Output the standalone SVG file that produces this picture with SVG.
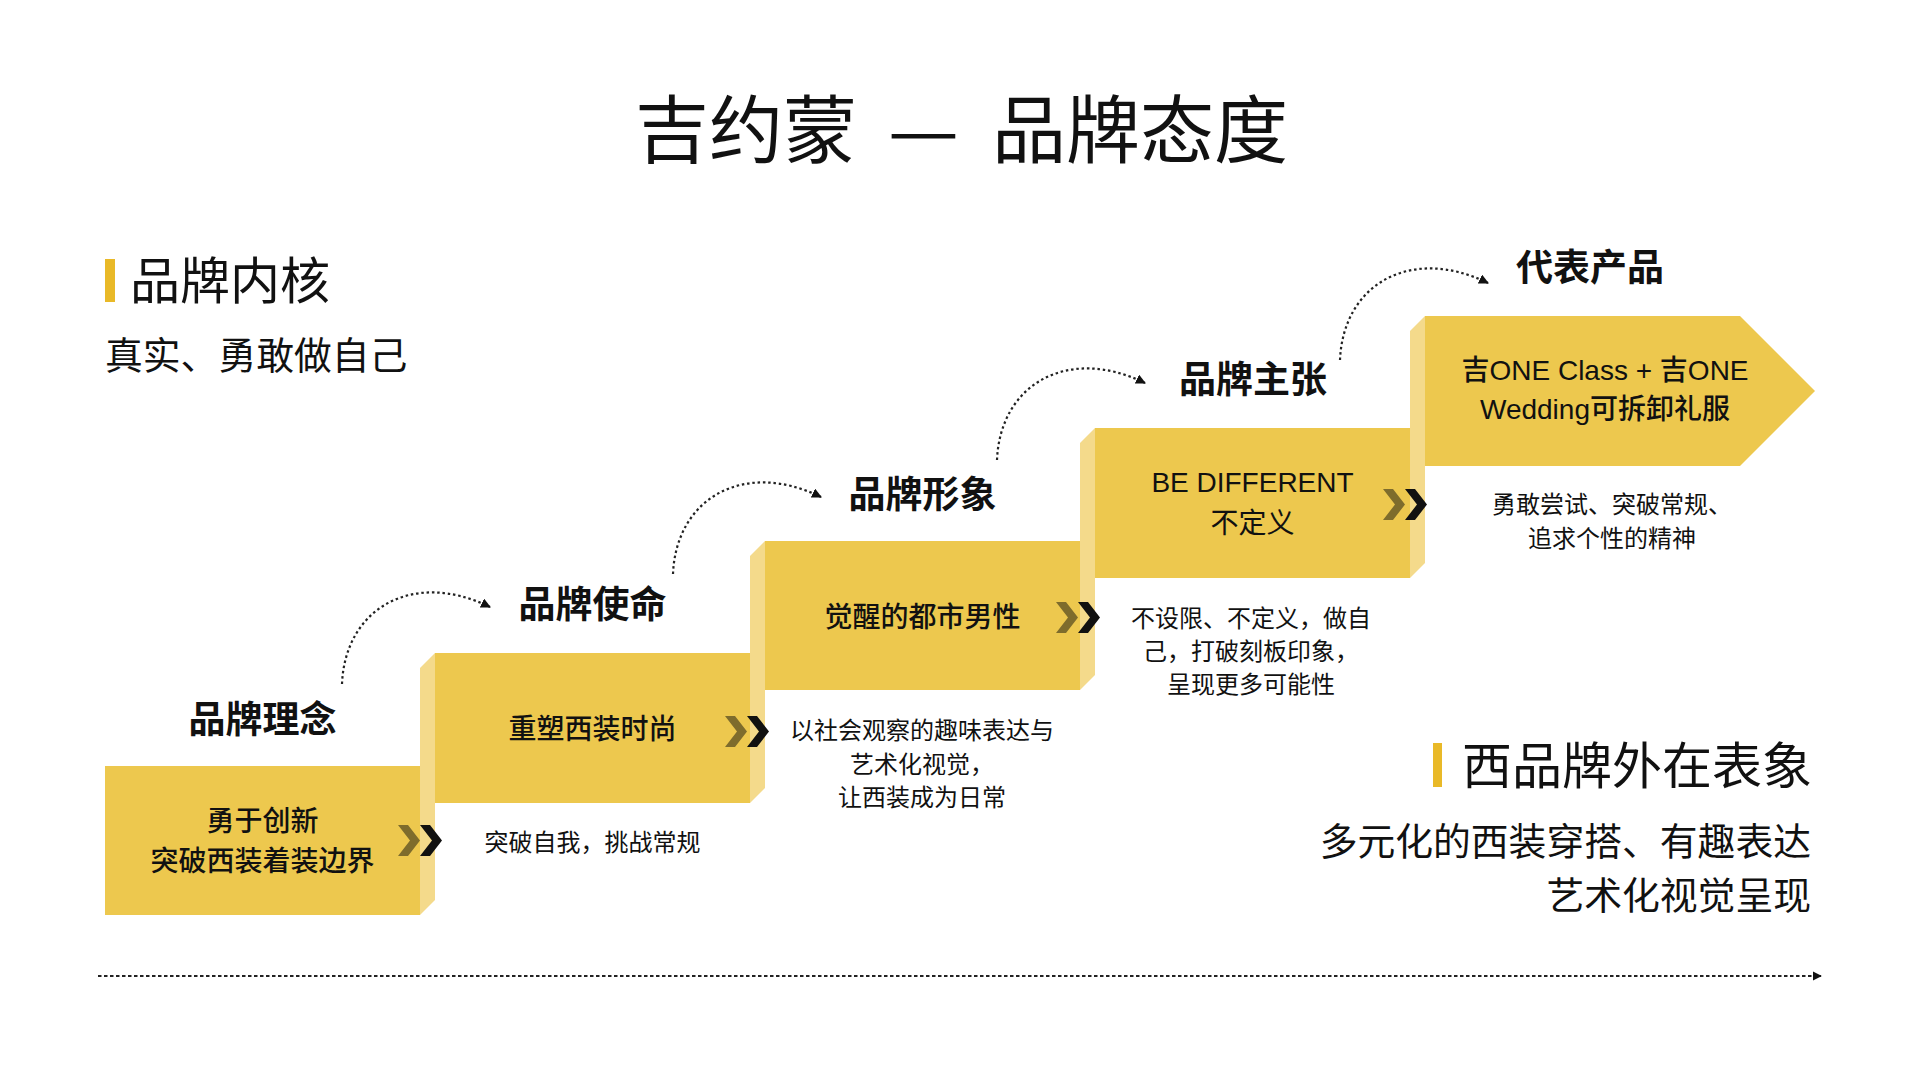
<svg xmlns="http://www.w3.org/2000/svg" width="1920" height="1080" viewBox="0 0 1920 1080">
<style>
.cjk{font-family:'Noto Sans CJK SC','Noto Sans',sans-serif;fill:#111}
.lat{font-family:'Liberation Sans','Noto Sans CJK SC',sans-serif;fill:#111}
.title{font-size:74px;font-weight:400}
.h1{font-size:50px;font-weight:400}
.big{font-size:37.8px;font-weight:400}
.h2{font-size:37px;font-weight:700;text-anchor:middle}
.box{font-size:28px;font-weight:500;text-anchor:middle}
.small{font-size:24px;font-weight:400;text-anchor:middle}
.main{fill:#EDC84E}
.side{fill:#F4DA8B}
.bar{fill:#E9B928}
.curve{fill:none;stroke:#222;stroke-width:2.2;stroke-dasharray:2.5 2.8}
.base{fill:none;stroke:#222;stroke-width:2;stroke-dasharray:3.5 2.5}
</style>
<defs>
<marker id="ah" viewBox="0 0 10 10" refX="9" refY="5" markerWidth="10" markerHeight="10" markerUnits="userSpaceOnUse" orient="auto">
<path d="M0,0 L10,5 L0,10 Z" fill="#111"/>
</marker>
<marker id="ah2" viewBox="0 0 10 10" refX="9" refY="5" markerWidth="9" markerHeight="10" markerUnits="userSpaceOnUse" orient="auto">
<path d="M0,0 L10,5 L0,10 Z" fill="#111"/>
</marker>
<path id="chev" d="M0,0 L10,0 L22,15.5 L10,31 L0,31 L12,15.5 Z"/>
<path id="arc" class="curve" d="M0,0 C3,-75 70,-115 148,-77" marker-end="url(#ah)"/>
</defs>
<rect width="1920" height="1080" fill="#FFFFFF"/>

<g id="title">
<text class="cjk title" y="157"><tspan x="635">吉约蒙</tspan><tspan x="992">品牌态度</tspan></text>
<text class="cjk title" x="888" y="157" font-weight="700" textLength="71" lengthAdjust="spacingAndGlyphs">—</text>
</g>

<g id="core">
<rect class="bar" x="105" y="259" width="10" height="43"/>
<text class="cjk h1" x="130" y="299">品牌内核</text>
<text class="cjk big" x="105" y="369">真实、勇敢做自己</text>
</g>

<g id="outer">
<rect class="bar" x="1433" y="743" width="9" height="44"/>
<text class="cjk h1" x="1812" y="784" text-anchor="end">西品牌外在表象</text>
<text class="cjk big" x="1811" y="855" text-anchor="end">多元化的西装穿搭、有趣表达</text>
<text class="cjk big" x="1811" y="909" text-anchor="end">艺术化视觉呈现</text>
</g>

<g id="step1">
<rect class="main" x="105" y="766" width="315" height="149"/>
<text class="cjk h2" x="262.5" y="733">品牌理念</text>
<text class="cjk box" x="262.5" y="831">勇于创新</text>
<text class="cjk box" x="262.5" y="871">突破西装着装边界</text>
</g>

<g id="step2">
<polygon class="side" points="420,668 435,653 435,900 420,915"/>
<rect class="main" x="435" y="653" width="315" height="150"/>
<text class="cjk h2" x="592.5" y="618">品牌使命</text>
<text class="cjk box" x="592.5" y="739">重塑西装时尚</text>
<text class="cjk small" x="592.5" y="851">突破自我，挑战常规</text>
</g>

<g id="step3">
<polygon class="side" points="750,556 765,541 765,788 750,803"/>
<rect class="main" x="765" y="541" width="315" height="149"/>
<text class="cjk h2" x="922.5" y="508">品牌形象</text>
<text class="cjk box" x="922.5" y="627">觉醒的都市男性</text>
<text class="cjk small" x="922" y="739">以社会观察的趣味表达与</text>
<text class="cjk small" x="922" y="773">艺术化视觉，</text>
<text class="cjk small" x="922" y="806">让西装成为日常</text>
</g>

<g id="step4">
<polygon class="side" points="1080,443 1095,428 1095,675 1080,690"/>
<rect class="main" x="1095" y="428" width="315" height="150"/>
<text class="cjk h2" x="1253" y="393">品牌主张</text>
<text class="lat box" x="1252.5" y="492" style="font-weight:400">BE DIFFERENT</text>
<text class="cjk box" x="1252.5" y="533" style="font-weight:400">不定义</text>
<text class="cjk small" x="1251" y="627">不设限、不定义，做自</text>
<text class="cjk small" x="1251" y="660">己，打破刻板印象，</text>
<text class="cjk small" x="1251" y="693">呈现更多可能性</text>
</g>

<g id="step5">
<polygon class="side" points="1410,331 1425,316 1425,563 1410,578"/>
<polygon class="main" points="1425,316 1740,316 1815,391 1740,466 1425,466"/>
<text class="cjk h2" x="1590" y="281">代表产品</text>
<text class="lat box" x="1605" y="380">吉ONE Class + 吉ONE</text>
<text class="lat box" x="1605" y="419">Wedding可拆卸礼服</text>
<text class="cjk small" x="1612" y="513">勇敢尝试、突破常规、</text>
<text class="cjk small" x="1612" y="547">追求个性的精神</text>
</g>

<g id="chevrons">
<use href="#chev" x="398" y="825" fill="#7E6C2C"/>
<use href="#chev" x="420" y="825" fill="#111"/>
<use href="#chev" x="725" y="716" fill="#7E6C2C"/>
<use href="#chev" x="747" y="716" fill="#111"/>
<use href="#chev" x="1056" y="602" fill="#7E6C2C"/>
<use href="#chev" x="1078" y="602" fill="#111"/>
<use href="#chev" x="1383" y="489" fill="#7E6C2C"/>
<use href="#chev" x="1405" y="489" fill="#111"/>
</g>

<g id="connectors">
<use href="#arc" transform="translate(342,684)"/>
<use href="#arc" transform="translate(673,574)"/>
<use href="#arc" transform="translate(997,460)"/>
<use href="#arc" transform="translate(1340,360)"/>
<path class="base" d="M98,976 L1821,976" marker-end="url(#ah2)"/>
</g>
</svg>
